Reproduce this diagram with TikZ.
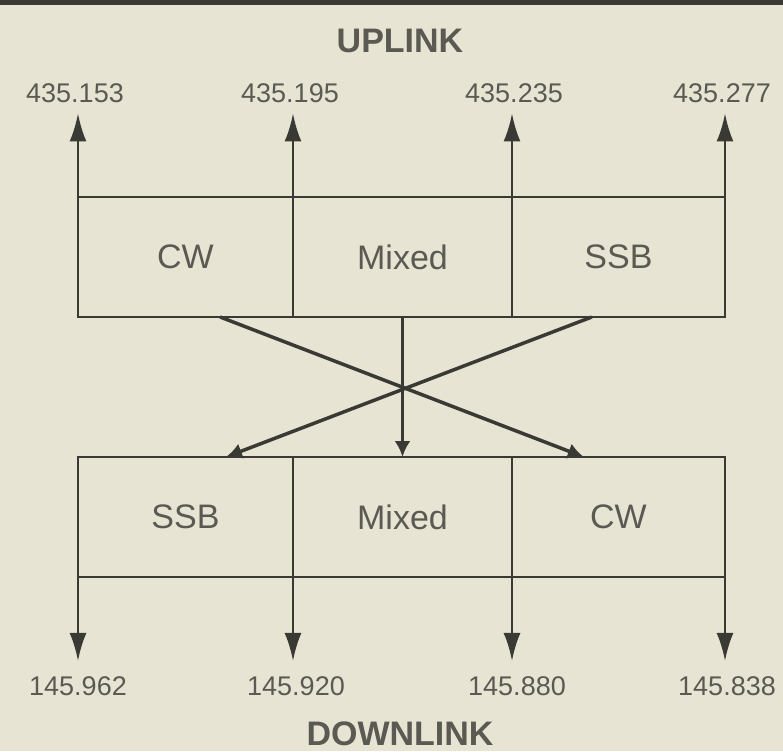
\documentclass[tikz,border=0pt]{standalone}
\usepackage{fontspec}
\setmainfont{Liberation Sans}
\usepackage{tikz}
\usepackage{color}
\usetikzlibrary{arrows.meta}
\definecolor{paper}{HTML}{E8E4D4}
\definecolor{ink}{HTML}{3A3A35}
\definecolor{txt}{HTML}{5A5A52}
\begin{document}
\begin{tikzpicture}[x=1pt,y=-1pt,
  cell/.style={draw=ink,line width=2.4pt,minimum height=120pt,inner sep=0pt,outer sep=0pt,text=txt,font=\fontsize{34}{40}\selectfont},
  freq/.style={text=txt,inner sep=2pt,font=\fontsize{27}{30}\selectfont},
  band/.style={text=txt,font=\fontsize{34}{40}\selectfont\bfseries},
  uparrow/.style={draw=ink,line width=2.5pt,-{Latex[length=28pt,width=17pt]},shorten >=8pt},
  downarrow/.style={draw=ink,line width=2.5pt,-{Latex[length=28pt,width=17pt]},shorten >=13pt},
  crossarrow/.style={draw=ink,line width=3.5pt,-{Latex[length=16pt,width=16pt]}}]
\useasboundingbox (0,0) rectangle (783,751);
\fill[paper] (0,0) rectangle (783,751);\fill[ink] (0,0) rectangle (783,5);

%uplink band
\node[band] (up) at (400,41) {UPLINK};
\node[cell,minimum width=215pt] (ucw) at (185.5,257) {CW};
\node[cell,minimum width=219pt] (umix) at (402.5,257) {Mixed};
\node[cell,minimum width=213pt] (ussb) at (618.5,257) {SSB};
\node[freq,anchor=base] (f1) at (75,103) {435.153};\node[freq,anchor=base] (f2) at (290,103) {435.195};
\node[freq,anchor=base] (f3) at (514,103) {435.235};\node[freq,anchor=base] (f4) at (722,103) {435.277};
\draw[uparrow] (ucw.north west) -- (ucw.north west |- f1.south);
\draw[uparrow] (ucw.north east) -- (ucw.north east |- f2.south);
\draw[uparrow] (ussb.north west) -- (ussb.north west |- f3.south);
\draw[uparrow] (ussb.north east) -- (ussb.north east |- f4.south);

%downlink band
\node[cell,minimum width=215pt] (lsb) at (185.5,517) {SSB};
\node[cell,minimum width=219pt] (lmix) at (402.5,517) {Mixed};
\node[cell,minimum width=213pt] (lcw) at (618.5,517) {CW};
\node[freq,anchor=base] (g1) at (78,695) {145.962};\node[freq,anchor=base] (g2) at (296,695) {145.920};
\node[freq,anchor=base] (g3) at (517,695) {145.880};\node[freq,anchor=base] (g4) at (727,695) {145.838};
\draw[downarrow] (lsb.south west) -- (lsb.south west |- g1.north);
\draw[downarrow] (lsb.south east) -- (lsb.south east |- g2.north);
\draw[downarrow] (lcw.south west) -- (lcw.south west |- g3.north);
\draw[downarrow] (lcw.south east) -- (lcw.south east |- g4.north);
\node[band,anchor=base] (down) at (400,745) {DOWNLINK};

%crossing
\draw[crossarrow] (ucw.-60) -- (lcw.120);
\draw[crossarrow] (ussb.-114) -- (lsb.56);
\draw[crossarrow] (umix.south) -- (lmix.north);
\end{tikzpicture}
\end{document}
